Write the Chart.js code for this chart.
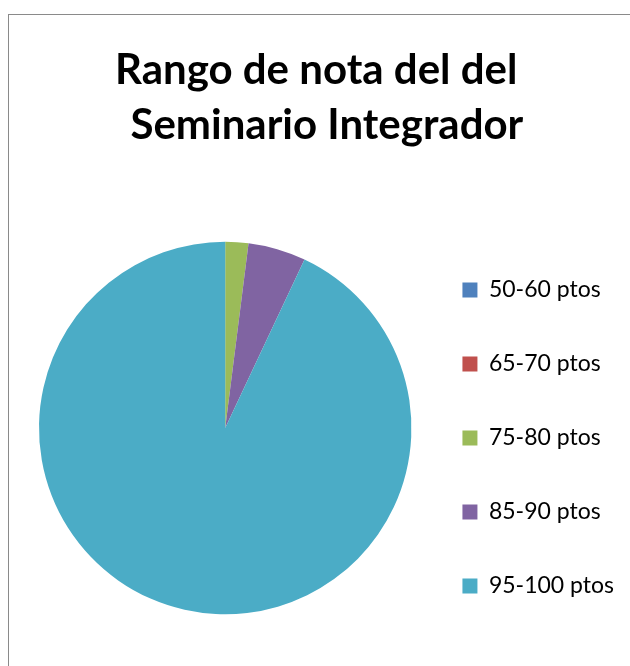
<!DOCTYPE html>
<html>
<head>
<meta charset="utf-8">
<script src="https://cdn.jsdelivr.net/npm/chart.js@4.4.1/dist/chart.umd.min.js"></script>
<style>
  body { margin: 0; background: #fff; }
  #wrap { position: relative; width: 630px; height: 666px; overflow: hidden; }
  #frame { position: absolute; left: 8px; top: 14px; width: 700px; height: 700px; border: 1px solid #8a8a8a; }
  canvas { position: absolute; left: 0; top: 0; }
</style>
</head>
<body>
<div id="wrap">
  <div id="frame"></div>
  <canvas id="pieChart" width="630" height="666"></canvas>
</div>
<script>
const categories = ["50-60 ptos", "65-70 ptos", "75-80 ptos", "85-90 ptos", "95-100 ptos"];
const values = [0, 0, 2, 5, 93];
const colors = ["#4F81BD", "#C0504D", "#9BBB59", "#8064A2", "#4BACC6"];
// trailing no-break spaces nudge the centred lines a little to the left
const titleLines = ["Rango de nota del del\u00A0\u00A0\u00A0", "Seminario Integrador\u00A0"];

const ctx = document.getElementById("pieChart").getContext("2d");
const chart = new Chart(ctx, {
  type: "pie",
  data: {
    labels: categories,
    datasets: [{
      data: values,
      backgroundColor: colors,
      borderWidth: 0
    }]
  },
  options: {
    responsive: false,
    animation: false,
    layout: { padding: { left: 39, right: 6, top: 0, bottom: 0 } },
    plugins: {
      title: {
        display: true,
        text: titleLines,
        color: "#000",
        font: { family: "Lato", size: 42, weight: "bold", lineHeight: 1.31 },
        padding: { top: 43, bottom: 37 }
      },
      legend: {
        position: "right",
        fullSize: false,
        title: { display: true, text: " ", font: { size: 10 }, padding: 4 },
        labels: {
          color: "#000",
          font: { family: "Lato", size: 23 },
          boxWidth: 15,
          boxHeight: 15,
          padding: 51
        }
      },
      tooltip: { enabled: false }
    }
  }
});
</script>
</body>
</html>
